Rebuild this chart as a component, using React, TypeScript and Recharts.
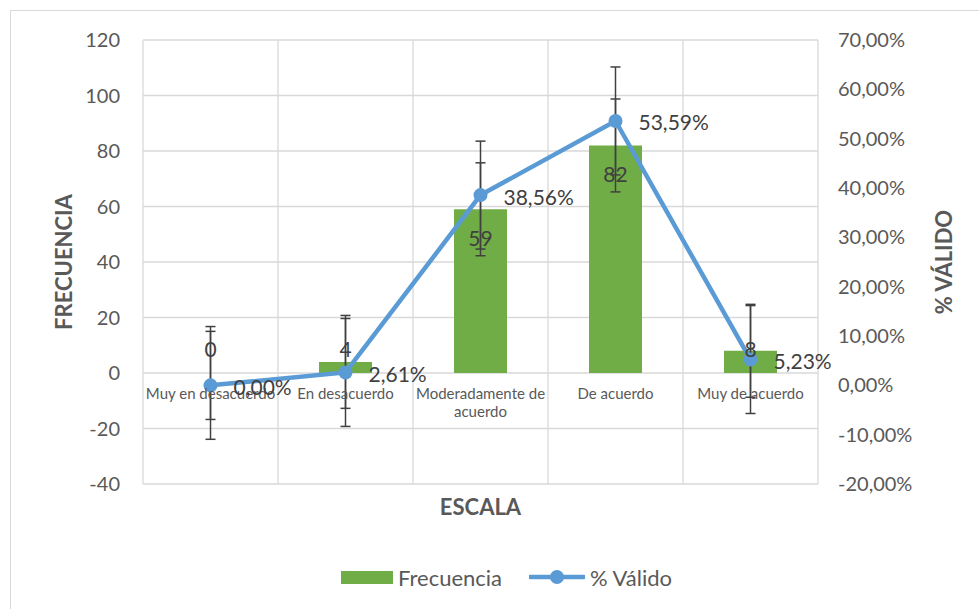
import { ComposedChart, Bar, Line, XAxis, YAxis, CartesianGrid, Legend, LabelList, ErrorBar, Text } from 'recharts';

const categories = ['Muy en desacuerdo', 'En desacuerdo', 'Moderadamente de acuerdo', 'De acuerdo', 'Muy de acuerdo'];
const frecuencia = [0, 4, 59, 82, 8];
const valido = [0, 2.61, 38.56, 53.59, 5.23];
// standard error bars, as Excel draws them
const frecuenciaError = [16.74, 16.74, 16.74, 16.74, 16.74];
const validoError = [10.94, 10.94, 10.94, 10.94, 10.94];
const leftTicks = [-40, -20, 0, 20, 40, 60, 80, 100, 120];
const rightTicks = [-20, -10, 0, 10, 20, 30, 40, 50, 60, 70];

const data = categories.map((name, i) => ({
    name,
    frecuencia: frecuencia[i],
    valido: valido[i],
    frecuenciaError: frecuenciaError[i],
    validoError: validoError[i],
}));

const W = 979;
const H = 609;
const TOP = 40;
const LEFT = 143;
const RIGHT = 818;
const BOTTOM = 484;
const PLOT_H = BOTTOM - TOP;
const ZERO_Y = TOP + (PLOT_H * 120) / 160;
const BAND = (RIGHT - LEFT) / categories.length;

const FONT = 'Lato, "Open Sans", sans-serif';
const GRAY = '#595959';
const DARK = '#404040';
const GREEN = '#70AD47';
const BLUE = '#5B9BD5';

const pct = (v: number) => `${v.toFixed(2).replace('.', ',')}%`;

function CategoryTick({ x, payload }: any) {
    return (
        <Text
            x={x}
            y={ZERO_Y + 15}
            width={136}
            textAnchor="middle"
            verticalAnchor="start"
            lineHeight="1.2em"
            fontSize={15}
            fontFamily={FONT}
            fill={GRAY}
        >
            {payload.value}
        </Text>
    );
}

function BarValueLabel({ x, y, width, height, value }: any) {
    const bottom = y + height;
    const cy = Math.min(y + 28, bottom - 25);
    return (
        <text x={x + width / 2} y={cy} textAnchor="middle" dominantBaseline="central" fontSize={21} fontFamily={FONT} fill={DARK}>
            {value}
        </text>
    );
}

function LineValueLabel({ x, y, value }: any) {
    return (
        <text x={x + 23} y={y + 1} textAnchor="start" dominantBaseline="central" fontSize={21} fontFamily={FONT} fill={DARK}>
            {pct(value)}
        </text>
    );
}

function LegendContent() {
    return (
        <div style={{ display: 'flex', alignItems: 'center', paddingLeft: LEFT + 188, fontFamily: FONT, fontSize: 22, color: GRAY, height: 30 }}>
            <span style={{ display: 'inline-block', width: 52, height: 13, background: GREEN, marginRight: 5 }} />
            <span>Frecuencia</span>
            <svg width={56} height={16} style={{ marginLeft: 27, marginRight: 5 }}>
                <line x1={1} y1={8} x2={55} y2={8} stroke={BLUE} strokeWidth={4.5} strokeLinecap="round" />
                <circle cx={28} cy={8} r={7} fill={BLUE} />
            </svg>
            <span>% Válido</span>
        </div>
    );
}

export default function App() {
    const verticalPoints = categories.map((_, i) => LEFT + i * BAND).concat(RIGHT);
    return (
        <div style={{ position: 'absolute', left: 0, top: 0, width: W, height: H, overflow: 'hidden', background: '#fff' }}>
            <div style={{ position: 'absolute', left: 10, top: 10, width: 1000, height: 700, border: '1.5px solid #D9D9D9' }} />
            <div style={{ position: 'absolute', left: 0, top: 0 }}>
                <ComposedChart width={W} height={H} data={data} margin={{ top: TOP, left: 10, right: 10, bottom: 17 }}>
                    <CartesianGrid yAxisId="left" stroke="#D9D9D9" strokeWidth={1.3} verticalPoints={verticalPoints} />
                    <XAxis
                        dataKey="name"
                        height={78}
                        axisLine={false}
                        tickLine={false}
                        interval={0}
                        tick={<CategoryTick />}
                        label={{
                            content: ({ viewBox }: any) => (
                                <text x={viewBox.x + viewBox.width / 2} y={viewBox.y + 22} textAnchor="middle" dominantBaseline="central" fontSize={22} fontWeight="bold" fontFamily={FONT} fill={GRAY}>
                                    ESCALA
                                </text>
                            ),
                        }}
                    />
                    <YAxis
                        yAxisId="left"
                        width={133}
                        domain={[-40, 120]}
                        ticks={leftTicks}
                        axisLine={false}
                        tickLine={false}
                        tickSize={0}
                        tickMargin={23}
                        tick={{ fontSize: 20, fill: GRAY, fontFamily: FONT }}
                        label={{
                            content: ({ viewBox }: any) => {
                                const cx = viewBox.x + 53;
                                const cy = viewBox.y + viewBox.height / 2;
                                return (
                                    <text x={cx} y={cy} transform={`rotate(-90 ${cx} ${cy})`} textAnchor="middle" dominantBaseline="central" fontSize={22} fontWeight="bold" fontFamily={FONT} fill={GRAY}>
                                        FRECUENCIA
                                    </text>
                                );
                            },
                        }}
                    />
                    <YAxis
                        yAxisId="right"
                        orientation="right"
                        width={151}
                        domain={[-20, 70]}
                        ticks={rightTicks}
                        tickFormatter={pct}
                        axisLine={false}
                        tickLine={false}
                        tickSize={0}
                        tickMargin={20}
                        tick={{ fontSize: 20, fill: GRAY, fontFamily: FONT }}
                        label={{
                            content: ({ viewBox }: any) => {
                                const cx = viewBox.x + 125;
                                const cy = viewBox.y + viewBox.height / 2;
                                return (
                                    <text x={cx} y={cy} transform={`rotate(-90 ${cx} ${cy})`} textAnchor="middle" dominantBaseline="central" fontSize={22} fontWeight="bold" fontFamily={FONT} fill={GRAY}>
                                        % VÁLIDO
                                    </text>
                                );
                            },
                        }}
                    />
                    <Legend verticalAlign="bottom" height={30} content={<LegendContent />} />
                    <Bar yAxisId="left" dataKey="frecuencia" name="Frecuencia" fill={GREEN} barSize={53} minPointSize={0.01} isAnimationActive={false}>
                        <LabelList dataKey="frecuencia" content={<BarValueLabel />} />
                        <ErrorBar dataKey="frecuenciaError" width={5} stroke={DARK} strokeWidth={1.5} />
                    </Bar>
                    <Line
                        yAxisId="right"
                        dataKey="valido"
                        name="% Válido"
                        stroke={BLUE}
                        strokeWidth={4.5}
                        dot={{ r: 7, fill: BLUE, stroke: BLUE, strokeWidth: 0 }}
                        activeDot={false}
                        isAnimationActive={false}
                    >
                        <ErrorBar dataKey="validoError" width={5} stroke={DARK} strokeWidth={1.5} />
                        <LabelList dataKey="valido" content={<LineValueLabel />} />
                    </Line>
                </ComposedChart>
            </div>
        </div>
    );
}
